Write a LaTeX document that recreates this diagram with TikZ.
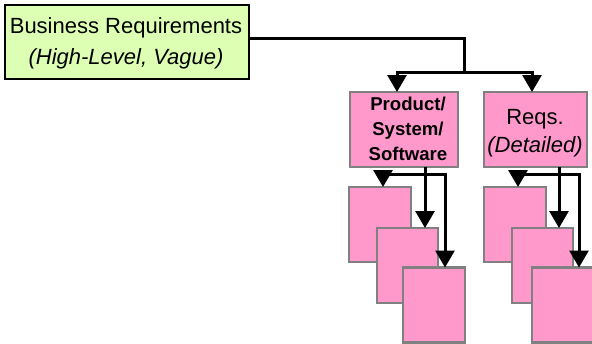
\documentclass[tikz,border=0pt]{standalone}
\usepackage{fontspec}
\setmainfont{Liberation Sans}
\usetikzlibrary{arrows.meta}
\definecolor{bizgreen}{RGB}{221,255,180}
\definecolor{reqpink}{RGB}{255,153,204}
\definecolor{boxgray}{RGB}{128,128,128}
\tikzset{
  bizbox/.style={draw=black, line width=2.3pt, fill=bizgreen, inner sep=0pt, outer sep=0pt},
  pinkbox/.style={draw=boxgray, line width=2.5pt, fill=reqpink, inner sep=0pt, outer sep=0pt},
  conn/.style={draw=black, line width=3pt, line join=miter},
  arr/.style={conn, arrows={-Triangle[width=19pt,length=17pt]}},
  txt/.style={align=center, inner sep=0pt, anchor=base}
}
\begin{document}
\begin{tikzpicture}[x=1pt,y=-1pt]
\useasboundingbox (0,0) rectangle (592,343);
\clip (0,0) rectangle (592,343);
% boxes
\node[bizbox, minimum width=244pt, minimum height=74pt] (biz) at (127,42) {};
\node[pinkbox, minimum width=108pt, minimum height=75pt] (prod) at (404,129.5) {};
\node[pinkbox, minimum width=103pt, minimum height=75pt] (reqs) at (535.5,129.5) {};
\node[pinkbox, minimum width=62pt, minimum height=75pt] (L1) at (380,224.5) {};
\node[pinkbox, minimum width=61pt, minimum height=75pt] (L2) at (407.5,265.5) {};
\node[pinkbox, minimum width=62pt, minimum height=75pt] (L3) at (434,305) {};
\node[pinkbox, minimum width=62pt, minimum height=75pt] (R1) at (515,224.5) {};
\node[pinkbox, minimum width=61pt, minimum height=75pt] (R2) at (542.5,265.5) {};
\node[pinkbox, minimum width=64pt, minimum height=75pt] (R3) at (564,305) {};
% texts (base anchor = baseline of the last line)
\node[txt, font=\fontsize{22}{31}\selectfont] (bizt) at (126,64.3) {Business Requirements\\\itshape (High-Level, Vague)};
\node[txt, font=\fontsize{18.6}{25}\selectfont\bfseries] (prodt) at (408,160.3) {Product/\\System/\\Software};
\node[txt, font=\fontsize{22}{28}\selectfont] (reqst) at (535,152.3) {Reqs.\\\itshape (Detailed)};
% connectors
\coordinate (j1) at (464,72);
\coordinate (pa) at (397,72);
\coordinate (ra) at (532,72);
\draw[conn] ([yshift=3.5pt]biz.east) -| (j1);
\draw[arr] (j1) -- (pa) -- (pa |- prod.north);
\draw[arr] (j1) -- (ra) -- (ra |- reqs.north);
% left group
\coordinate (pv) at (425,174);
\coordinate (ph1) at (383,174);
\coordinate (ph2) at (445,174);
\draw[arr] (pv |- prod.south) -- (pv |- L2.north);
\draw[arr] (ph2) -- (ph1) -- (ph1 |- L1.north);
\draw[arr] (ph1) -- (ph2) -- (ph2 |- L3.north);
% right group
\coordinate (rv) at (559,174);
\coordinate (rh1) at (518,174);
\coordinate (rh2) at (579,174);
\draw[arr] (rv |- reqs.south) -- (rv |- R2.north);
\draw[arr] (rh2) -- (rh1) -- (rh1 |- R1.north);
\draw[arr] (rh1) -- (rh2) -- (rh2 |- R3.north);
\end{tikzpicture}
\end{document}
